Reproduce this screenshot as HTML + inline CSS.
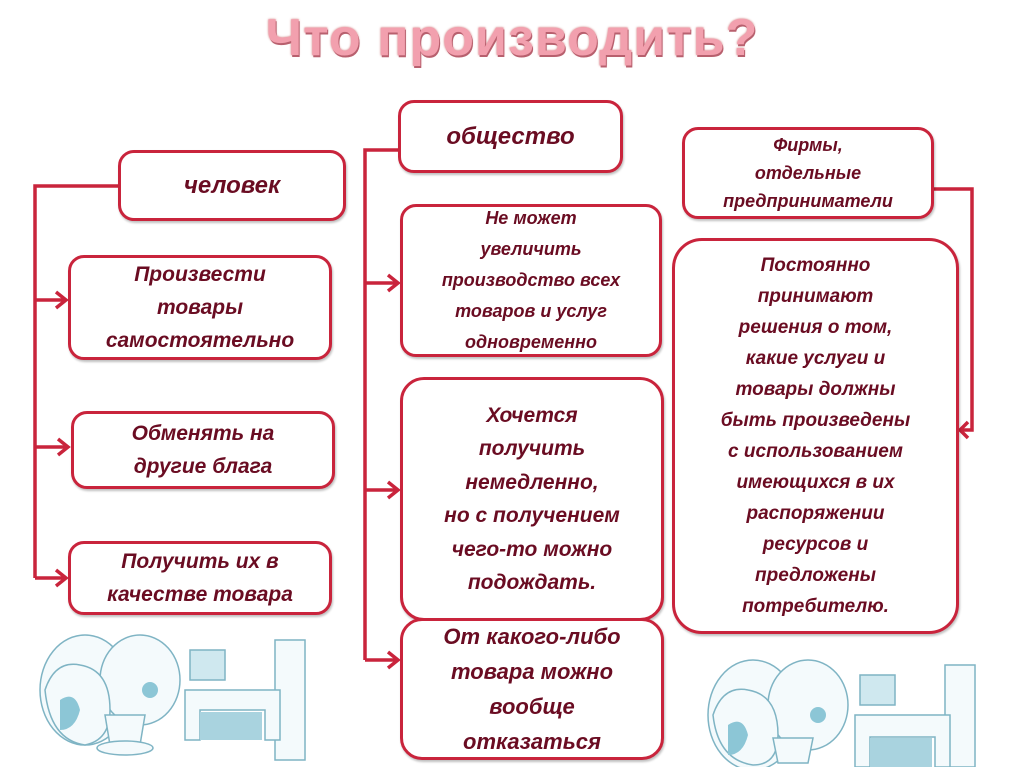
<!DOCTYPE html>
<html><head><meta charset="utf-8"><style>
body{margin:0;width:1024px;height:767px;background:#fff;position:relative;overflow:hidden;font-family:"Liberation Sans","DejaVu Sans",sans-serif}
.t{position:absolute;left:0;width:1024px;top:8px;text-align:center;font-size:52px;font-weight:bold;color:#f2a0ae;letter-spacing:1px;text-shadow:1px 2px 0 #b8606e,0 0 2px #c77}
.b{position:absolute;box-sizing:border-box;border:3px solid #c9243c;border-radius:16px;background:#fff;display:flex;align-items:center;justify-content:center;text-align:center;color:#6a0c22;font-style:italic;font-weight:bold;box-shadow:1px 2px 2px rgba(0,0,0,.25)}
svg{position:absolute;left:0;top:0}
</style></head><body>
<div class="t">Что производить?</div>
<svg width="1024" height="767">
<g stroke="#c9243c" stroke-width="3.5" fill="none">
<polyline points="118,186 35,186 35,578"/>
<line x1="35" y1="300" x2="66" y2="300"/><polyline points="56,292 66,300 56,308"/>
<line x1="35" y1="447" x2="68" y2="447"/><polyline points="58,439 68,447 58,455"/>
<line x1="35" y1="578" x2="66" y2="578"/><polyline points="56,570 66,578 56,586"/>
<polyline points="398,150 365,150 365,660"/>
<line x1="365" y1="283" x2="398" y2="283"/><polyline points="388,275 398,283 388,291"/>
<line x1="365" y1="490" x2="398" y2="490"/><polyline points="388,482 398,490 388,498"/>
<line x1="365" y1="660" x2="398" y2="660"/><polyline points="388,652 398,660 388,668"/>
<polyline points="934,189 972,189 972,430 960,430"/><polyline points="968,422 960,430 968,438"/>
</g>
<g fill="#f4fafc" stroke="#7fb4c4" stroke-width="1.5">
<ellipse cx="85" cy="690" rx="45" ry="55"/><ellipse cx="140" cy="680" rx="40" ry="45"/>
<path d="M45,690 q10,-30 35,-25 q30,5 30,45 q0,30 -25,35 q-35,-5 -40,-55z"/>
<path d="M105,715 h40 l-5,30 h-30z"/><ellipse cx="125" cy="748" rx="28" ry="7"/>
<rect x="190" y="650" width="35" height="30" fill="#cfe8ef"/><rect x="275" y="640" width="30" height="120"/>
<path d="M185,690 h95 v50 h-15 v-30 h-65 v30 h-15z"/>
<rect x="200" y="712" width="62" height="28" fill="#a9d3df" stroke="none"/>
<ellipse cx="753" cy="715" rx="45" ry="55"/><ellipse cx="808" cy="705" rx="40" ry="45"/>
<path d="M713,715 q10,-30 35,-25 q30,5 30,45 q0,30 -25,30 q-35,-5 -40,-50z"/>
<path d="M773,738 h40 l-5,25 h-30z"/>
<rect x="860" y="675" width="35" height="30" fill="#cfe8ef"/><rect x="945" y="665" width="30" height="102"/>
<path d="M855,715 h95 v52 h-15 v-30 h-65 v30 h-15z"/>
<rect x="870" y="738" width="62" height="29" fill="#a9d3df" stroke="none"/>
</g>
<g fill="#8cc6d6" stroke="none">
<path d="M60,700 q15,-10 20,10 q-5,20 -20,20z"/><circle cx="150" cy="690" r="8"/>
<path d="M728,725 q15,-10 20,10 q-5,20 -20,20z"/><circle cx="818" cy="715" r="8"/>
</g>
</svg>
<div class="b" style="left:118px;top:150px;width:228px;height:71px;font-size:24px">человек</div>
<div class="b" style="left:398px;top:100px;width:225px;height:73px;font-size:24px">общество</div>
<div class="b" style="left:682px;top:127px;width:252px;height:92px;font-size:18px;line-height:28px">Фирмы,<br>отдельные<br>предприниматели</div>
<div class="b" style="left:68px;top:255px;width:264px;height:105px;font-size:21px;line-height:33px">Произвести<br>товары<br>самостоятельно</div>
<div class="b" style="left:71px;top:411px;width:264px;height:78px;font-size:21px;line-height:33px">Обменять на<br>другие блага</div>
<div class="b" style="left:68px;top:541px;width:264px;height:74px;font-size:21px;line-height:33px">Получить их в<br>качестве товара</div>
<div class="b" style="left:400px;top:204px;width:262px;height:153px;font-size:18px;line-height:31px">Не может<br>увеличить<br>производство всех<br>товаров и услуг<br>одновременно</div>
<div class="b" style="left:400px;top:377px;width:264px;height:244px;font-size:21px;line-height:33.5px;border-radius:24px">Хочется<br>получить<br>немедленно,<br>но с получением<br>чего-то можно<br>подождать.</div>
<div class="b" style="left:400px;top:618px;width:264px;height:142px;font-size:22px;line-height:35px;border-radius:22px">От какого-либо<br>товара можно<br>вообще<br>отказаться</div>
<div class="b" style="left:672px;top:238px;width:287px;height:396px;font-size:19px;line-height:31px;border-radius:30px">Постоянно<br>принимают<br>решения о том,<br>какие услуги и<br>товары должны<br>быть произведены<br>с использованием<br>имеющихся в их<br>распоряжении<br>ресурсов и<br>предложены<br>потребителю.</div>
</body></html>
